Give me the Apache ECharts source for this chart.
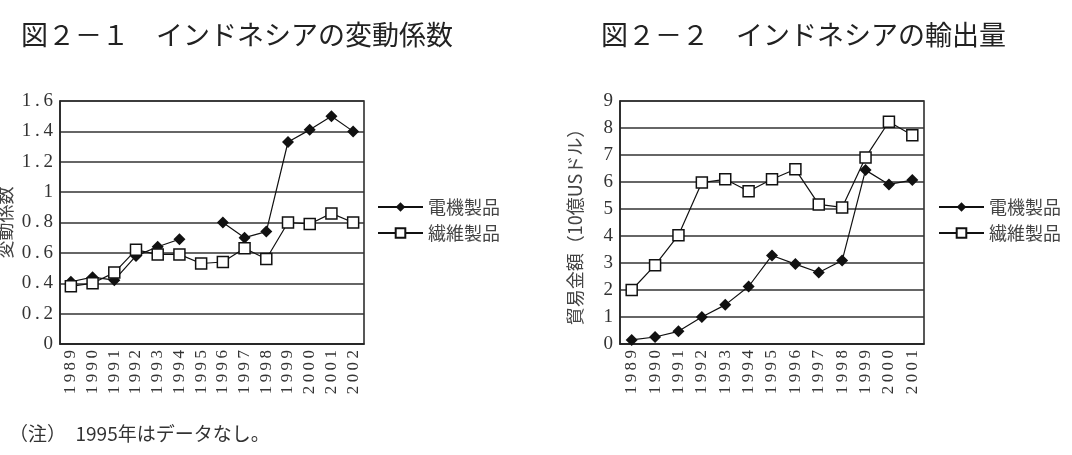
<!DOCTYPE html>
<html lang="ja">
<head>
    <meta charset="UTF-8">
    <title>インドネシアの変動係数と輸出量</title>
    <script src="https://cdn.jsdelivr.net/npm/echarts@6.0.0/dist/echarts.min.js"></script>
    <style>
        html, body { margin: 0; padding: 0; background: #fff; }
        #chart { width: 1072px; height: 455px; }
    </style>
</head>
<body>
    <div id="chart"></div>

    <script>
        // 図2-1 変動係数
        const years1 = ['1989', '1990', '1991', '1992', '1993', '1994', '1995',
                        '1996', '1997', '1998', '1999', '2000', '2001', '2002'];
        const cvElec = [0.41, 0.44, 0.42, 0.58, 0.64, 0.69, null,
                        0.80, 0.70, 0.74, 1.33, 1.41, 1.50, 1.40];
        const cvTextile = [0.38, 0.40, 0.47, 0.62, 0.59, 0.59, 0.53,
                           0.54, 0.63, 0.56, 0.80, 0.79, 0.86, 0.80];

        // 図2-2 輸出量（10億USドル）
        const years2 = ['1989', '1990', '1991', '1992', '1993', '1994', '1995',
                        '1996', '1997', '1998', '1999', '2000', '2001'];
        const expElec = [0.15, 0.26, 0.47, 1.0, 1.45, 2.13, 3.28,
                         2.96, 2.65, 3.09, 6.44, 5.91, 6.07];
        const expTextile = [2.0, 2.92, 4.03, 5.98, 6.1, 5.66, 6.1,
                            6.47, 5.17, 5.06, 6.91, 8.23, 7.73];

        const seriesNames = ['電機製品', '繊維製品'];

        const serif = '"Liberation Serif", "DejaVu Serif", serif';
        const jp = '"Noto Sans CJK JP", "Noto Sans", sans-serif';
        // 数字の字間を少し広げる
        const spaced = v => String(v).split('').join('\u2009');

        const chart = echarts.init(document.getElementById('chart'));

        function xAxisFor(idx, data) {
            return {
                type: 'category',
                gridIndex: idx,
                data: data,
                boundaryGap: true,
                axisLine: { lineStyle: { color: '#222', width: 1.5 } },
                axisTick: { inside: true, length: 4, lineStyle: { color: '#222', width: 1.2 } },
                axisLabel: {
                    rotate: 90,
                    interval: 0,
                    margin: 6,
                    fontFamily: serif,
                    fontSize: 17,
                    color: '#333',
                    formatter: spaced
                }
            };
        }

        function yAxisFor(idx, max, interval, name, gap) {
            return {
                type: 'value',
                gridIndex: idx,
                min: 0,
                max: max,
                interval: interval,
                name: name,
                nameLocation: 'middle',
                nameRotate: 90,
                nameGap: gap,
                nameMoveOverlap: false,
                nameTextStyle: { fontFamily: jp, fontSize: 18, color: '#444' },
                axisLine: { show: true, lineStyle: { color: '#222', width: 1.5 } },
                axisTick: { show: false },
                axisLabel: {
                    margin: 7,
                    fontFamily: serif,
                    fontSize: 19,
                    color: '#333',
                    formatter: spaced
                },
                splitLine: { show: true, lineStyle: { color: '#333', width: 1.6 } }
            };
        }

        function lineSeries(name, idx, data, isElec) {
            return {
                name: name,
                type: 'line',
                xAxisIndex: idx,
                yAxisIndex: idx,
                data: data,
                connectNulls: false,
                symbol: isElec ? 'diamond' : 'rect',
                symbolSize: isElec ? 12 : 11,
                lineStyle: { color: '#111', width: 1.2 },
                itemStyle: isElec
                    ? { color: '#111' }
                    : { color: '#fff', borderColor: '#111', borderWidth: 1.5 },
                z: isElec ? 2 : 3
            };
        }

        const option = {
            animation: false,
            backgroundColor: '#fff',
            title: [
                {
                    text: '図２－１　インドネシアの変動係数',
                    left: 16, top: 16,
                    textStyle: { fontFamily: jp, fontSize: 27, fontWeight: 'normal', color: '#222' }
                },
                {
                    text: '図２－２　インドネシアの輸出量',
                    left: 596, top: 16,
                    textStyle: { fontFamily: jp, fontSize: 27, fontWeight: 'normal', color: '#222' }
                },
                {
                    text: '（注）　1995年はデータなし。',
                    left: 4, top: 419,
                    textStyle: { fontFamily: jp, fontSize: 19, fontWeight: 'normal', color: '#333' }
                }
            ],
            legend: [
                {
                    data: seriesNames,
                    orient: 'vertical',
                    left: 377, top: 198,
                    padding: 0,
                    itemGap: 8,
                    itemWidth: 45,
                    itemHeight: 12,
                    textStyle: { fontFamily: jp, fontSize: 18, color: '#444' }
                },
                {
                    data: seriesNames,
                    orient: 'vertical',
                    left: 938, top: 198,
                    padding: 0,
                    itemGap: 8,
                    itemWidth: 45,
                    itemHeight: 12,
                    textStyle: { fontFamily: jp, fontSize: 18, color: '#444' }
                }
            ],
            grid: [
                { left: 60, top: 101, width: 304, height: 243, outerBoundsMode: 'none',
                  show: true, borderColor: '#222', borderWidth: 1.5 },
                { left: 620, top: 101, width: 304, height: 243, outerBoundsMode: 'none',
                  show: true, borderColor: '#222', borderWidth: 1.5 }
            ],
            xAxis: [xAxisFor(0, years1), xAxisFor(1, years2)],
            yAxis: [
                yAxisFor(0, 1.6, 0.2, '変動係数', 46),
                yAxisFor(1, 9, 1, '貿易金額（10億USドル）', 36)
            ],
            series: [
                lineSeries(seriesNames[0], 0, cvElec, true),
                lineSeries(seriesNames[1], 0, cvTextile, false),
                lineSeries(seriesNames[0], 1, expElec, true),
                lineSeries(seriesNames[1], 1, expTextile, false)
            ]
        };

        chart.setOption(option);
    </script>
</body>
</html>
